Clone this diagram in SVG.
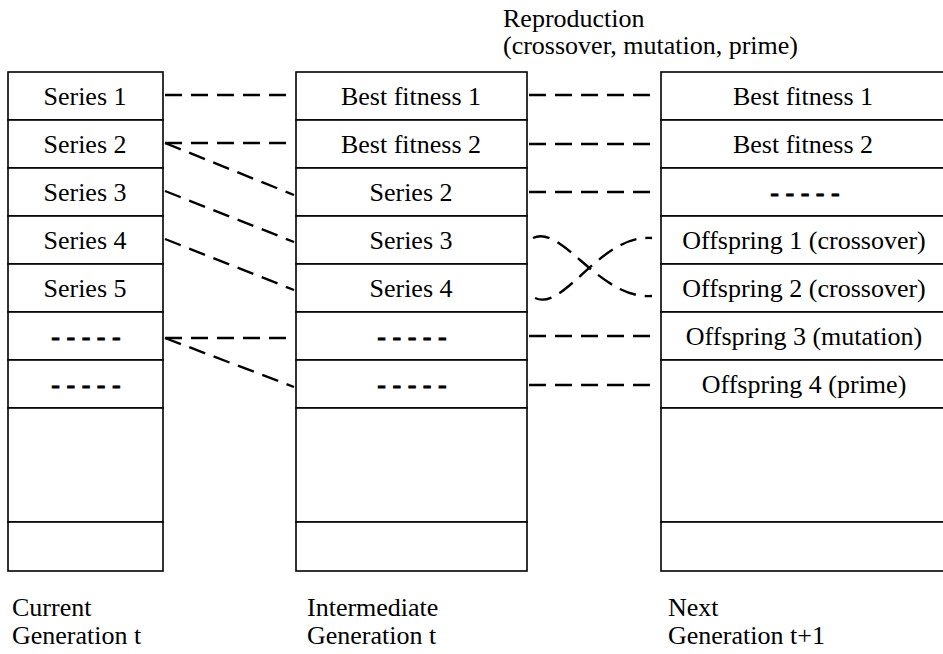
<svg xmlns="http://www.w3.org/2000/svg" width="943" height="654" viewBox="0 0 943 654">
<style>
.cell{fill:#fff;stroke:#000;stroke-width:1.6}
.t{font-family:"Liberation Serif","Times New Roman",serif;font-size:26px;fill:#000;text-anchor:middle}
.d{font-family:"Liberation Serif","Times New Roman",serif;font-size:26px;font-weight:bold;fill:#000;stroke:#000;stroke-width:0.8;text-anchor:middle}
.lbl{font-family:"Liberation Serif","Times New Roman",serif;font-size:26px;fill:#000}
.c{fill:none;stroke:#000;stroke-width:2.4;stroke-dasharray:17 9}
</style>
<rect width="943" height="654" fill="#fff"/>
<g id="current">
<g id="L1"><rect class="cell" x="8" y="72" width="155" height="48"/><text class="t" x="85" y="105">Series 1</text></g>
<g id="L2"><rect class="cell" x="8" y="120" width="155" height="48"/><text class="t" x="85" y="153">Series 2</text></g>
<g id="L3"><rect class="cell" x="8" y="168" width="155" height="48"/><text class="t" x="85" y="201">Series 3</text></g>
<g id="L4"><rect class="cell" x="8" y="216" width="155" height="48"/><text class="t" x="85" y="249">Series 4</text></g>
<g id="L5"><rect class="cell" x="8" y="264" width="155" height="48"/><text class="t" x="85" y="297">Series 5</text></g>
<g id="L6"><rect class="cell" x="8" y="312" width="155" height="48"/><text class="d" x="86" y="345">- - - - -</text></g>
<g id="L7"><rect class="cell" x="8" y="360" width="155" height="48"/><text class="d" x="86" y="393">- - - - -</text></g>
<g id="L8"><rect class="cell" x="8" y="408" width="155" height="114"/></g>
<g id="L9"><rect class="cell" x="8" y="522" width="155" height="49"/></g>
</g>
<g id="intermediate">
<g id="M1"><rect class="cell" x="296" y="72" width="231" height="48"/><text class="t" x="411" y="105">Best fitness 1</text></g>
<g id="M2"><rect class="cell" x="296" y="120" width="231" height="48"/><text class="t" x="411" y="153">Best fitness 2</text></g>
<g id="M3"><rect class="cell" x="296" y="168" width="231" height="48"/><text class="t" x="411" y="201">Series 2</text></g>
<g id="M4"><rect class="cell" x="296" y="216" width="231" height="48"/><text class="t" x="411" y="249">Series 3</text></g>
<g id="M5"><rect class="cell" x="296" y="264" width="231" height="48"/><text class="t" x="411" y="297">Series 4</text></g>
<g id="M6"><rect class="cell" x="296" y="312" width="231" height="48"/><text class="d" x="412" y="345">- - - - -</text></g>
<g id="M7"><rect class="cell" x="296" y="360" width="231" height="48"/><text class="d" x="412" y="393">- - - - -</text></g>
<g id="M8"><rect class="cell" x="296" y="408" width="231" height="114"/></g>
<g id="M9"><rect class="cell" x="296" y="522" width="231" height="49"/></g>
</g>
<g id="next">
<g id="R1"><rect class="cell" x="661" y="72" width="285" height="48"/><text class="t" x="803" y="105">Best fitness 1</text></g>
<g id="R2"><rect class="cell" x="661" y="120" width="285" height="48"/><text class="t" x="803" y="153">Best fitness 2</text></g>
<g id="R3"><rect class="cell" x="661" y="168" width="285" height="48"/><text class="d" x="805" y="201">- - - - -</text></g>
<g id="R4"><rect class="cell" x="661" y="216" width="285" height="48"/><text class="t" x="804" y="249">Offspring 1 (crossover)</text></g>
<g id="R5"><rect class="cell" x="661" y="264" width="285" height="48"/><text class="t" x="804" y="297">Offspring 2 (crossover)</text></g>
<g id="R6"><rect class="cell" x="661" y="312" width="285" height="48"/><text class="t" x="804" y="345">Offspring 3 (mutation)</text></g>
<g id="R7"><rect class="cell" x="661" y="360" width="285" height="48"/><text class="t" x="804" y="393">Offspring 4 (prime)</text></g>
<g id="R8"><rect class="cell" x="661" y="408" width="285" height="114"/></g>
<g id="R9"><rect class="cell" x="661" y="522" width="285" height="49"/></g>
</g>
<g id="connectors">
<line class="c" x1="165" y1="95" x2="294" y2="95"/>
<line class="c" x1="165" y1="143" x2="294" y2="143"/>
<line class="c" x1="165" y1="143" x2="294" y2="195"/>
<line class="c" x1="165" y1="191" x2="294" y2="242"/>
<line class="c" x1="165" y1="239" x2="294" y2="290"/>
<line class="c" x1="165" y1="338" x2="294" y2="338"/>
<line class="c" x1="165" y1="338" x2="294" y2="387"/>
<line class="c" x1="529" y1="95" x2="659" y2="95"/>
<line class="c" x1="529" y1="144" x2="659" y2="144"/>
<line class="c" x1="529" y1="192" x2="659" y2="192"/>
<line class="c" x1="529" y1="336" x2="659" y2="336"/>
<line class="c" x1="529" y1="385" x2="659" y2="385"/>
<path class="c" d="M533,238 C562,224 600,300 652,296"/>
<path class="c" d="M535,298 C564,312 600,234 652,238"/>
</g>
<g id="labels">
<text class="lbl" x="503" y="27">Reproduction</text>
<text class="lbl" x="503" y="54">(crossover, mutation, prime)</text>
<text class="lbl" x="12" y="616">Current</text>
<text class="lbl" x="12" y="644">Generation t</text>
<text class="lbl" x="307" y="616">Intermediate</text>
<text class="lbl" x="307" y="644">Generation t</text>
<text class="lbl" x="668" y="616">Next</text>
<text class="lbl" x="668" y="644">Generation t+1</text>
</g>
</svg>
